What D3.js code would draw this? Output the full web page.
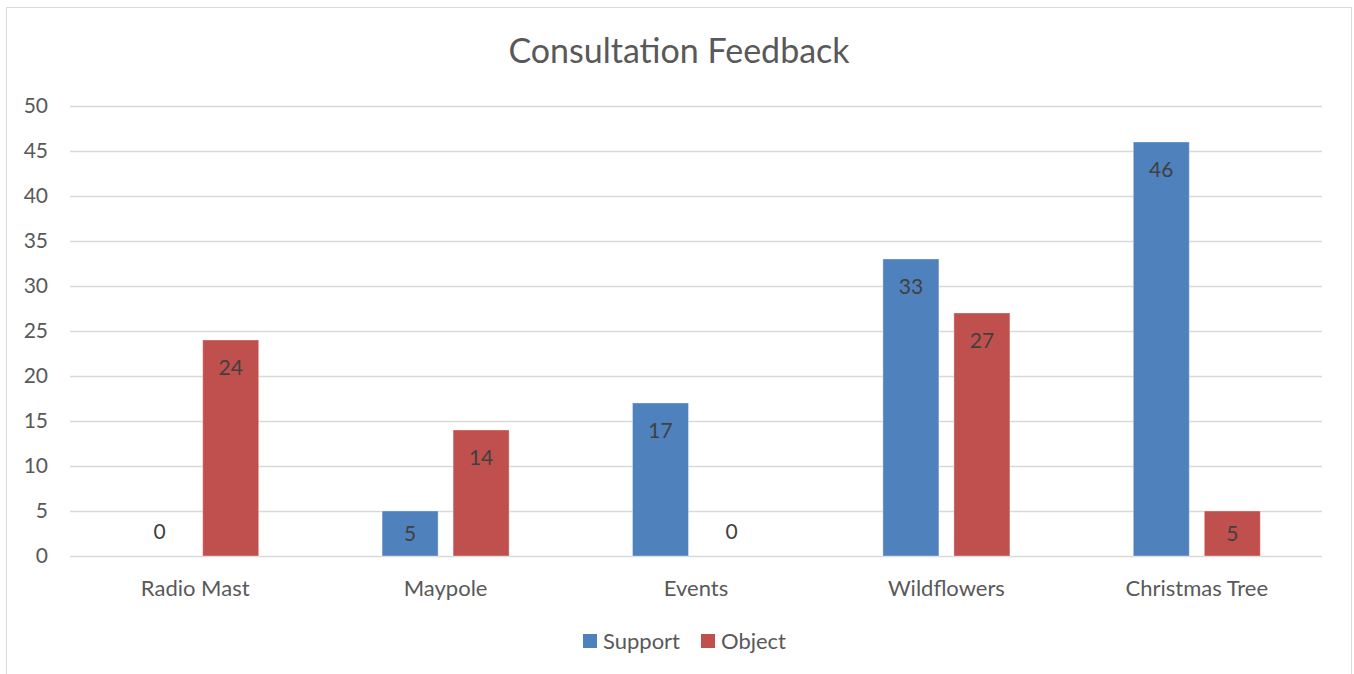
<!DOCTYPE html>
<html>
<head>
<meta charset="utf-8">
<script src="https://cdn.jsdelivr.net/npm/d3@7"></script>
<style>
  body { margin: 0; background: #fff; }
  svg { display: block; font-family: Lato, "Open Sans", sans-serif; }
</style>
</head>
<body>
<div id="chart"></div>
<script>
// chart data
const categories = ["Radio Mast", "Maypole", "Events", "Wildflowers", "Christmas Tree"];
const seriesNames = ["Support", "Object"];
const supportValues = [0, 5, 17, 33, 46];
const objectValues = [24, 14, 0, 27, 5];
const yTicks = [0, 5, 10, 15, 20, 25, 30, 35, 40, 45, 50];

const width = 1354;
const height = 674;
const margin = { top: 106, right: 32, bottom: 118, left: 70 };
const colors = { Support: "#4F81BD", Object: "#C0504D" };

const svg = d3.select("#chart")
  .append("svg")
  .attr("width", width)
  .attr("height", height);

// outer frame
svg.append("rect")
  .attr("x", 6.5)
  .attr("y", 7.5)
  .attr("width", 1345)
  .attr("height", 680)
  .attr("fill", "#fff")
  .attr("stroke", "#d9d9d9");

const x0 = d3.scaleBand()
  .domain(categories)
  .range([margin.left, width - margin.right]);

// inner band: two 56px bars with 15px gap, centred in each category
const groupW = 127;
const off = (x0.bandwidth() - groupW) / 2;
const x1 = d3.scaleBand()
  .domain(seriesNames)
  .range([off, off + groupW])
  .paddingInner(15 / 71);

const y = d3.scaleLinear()
  .domain([0, 50])
  .range([height - margin.bottom, margin.top]);

// gridlines
svg.append("g")
  .selectAll("line")
  .data(yTicks)
  .enter()
  .append("line")
  .attr("x1", margin.left)
  .attr("x2", width - margin.right)
  .attr("y1", (d) => Math.round(y(d)) + 0.5)
  .attr("y2", (d) => Math.round(y(d)) + 0.5)
  .attr("stroke", "#d9d9d9")
  .attr("stroke-width", 1.5);

// y tick labels
svg.append("g")
  .selectAll("text")
  .data(yTicks)
  .enter()
  .append("text")
  .attr("x", 48)
  .attr("y", (d) => y(d))
  .attr("dy", "0.35em")
  .attr("text-anchor", "end")
  .attr("font-size", "21px")
  .attr("fill", "#595959")
  .text((d) => d);

const rows = categories.map((c, i) => ({
  cat: c,
  values: [
    { key: "Support", value: supportValues[i] },
    { key: "Object", value: objectValues[i] },
  ],
}));

const groups = svg.append("g")
  .selectAll("g")
  .data(rows)
  .enter()
  .append("g")
  .attr("transform", (d) => `translate(${x0(d.cat)},0)`);

groups.selectAll("rect")
  .data((d) => d.values.filter((v) => v.value > 0))
  .enter()
  .append("rect")
  .attr("x", (d) => x1(d.key))
  .attr("y", (d) => y(d.value))
  .attr("width", x1.bandwidth())
  .attr("height", (d) => y(0) - y(d.value))
  .attr("fill", (d) => colors[d.key])
  .attr("stroke", "#fff")
  .attr("stroke-opacity", 0.35)
  .attr("stroke-width", 1);

// data labels (inside end; zero values sit above the axis)
groups.selectAll("text")
  .data((d) => d.values)
  .enter()
  .append("text")
  .attr("x", (d) => x1(d.key) + x1.bandwidth() / 2)
  .attr("y", (d) => {
    if (d.value === 0) return y(0) - 24;
    return Math.min(y(d.value) + 28, (y(d.value) + y(0)) / 2);
  })
  .attr("dy", "0.35em")
  .attr("text-anchor", "middle")
  .attr("font-size", "21px")
  .attr("fill", "#404040")
  .text((d) => d.value);

// category labels
svg.append("g")
  .selectAll("text")
  .data(categories)
  .enter()
  .append("text")
  .attr("x", (d) => x0(d) + x0.bandwidth() / 2)
  .attr("y", 588)
  .attr("dy", "0.35em")
  .attr("text-anchor", "middle")
  .attr("font-size", "22px")
  .attr("fill", "#595959")
  .text((d) => d);

// title
svg.append("text")
  .attr("x", 679)
  .attr("y", 51)
  .attr("dy", "0.35em")
  .attr("text-anchor", "middle")
  .attr("font-size", "34px")
  .attr("fill", "#595959")
  .text("Consultation Feedback");

// legend
const legendX = [583, 701];
const legend = svg.append("g")
  .selectAll("g")
  .data(seriesNames)
  .enter()
  .append("g")
  .attr("transform", (d, i) => `translate(${legendX[i]},634)`);

legend.append("rect")
  .attr("width", 14)
  .attr("height", 14)
  .attr("fill", (d) => colors[d]);

legend.append("text")
  .attr("x", 20)
  .attr("y", 7)
  .attr("dy", "0.35em")
  .attr("font-size", "22px")
  .attr("fill", "#595959")
  .text((d) => d);
</script>
</body>
</html>
